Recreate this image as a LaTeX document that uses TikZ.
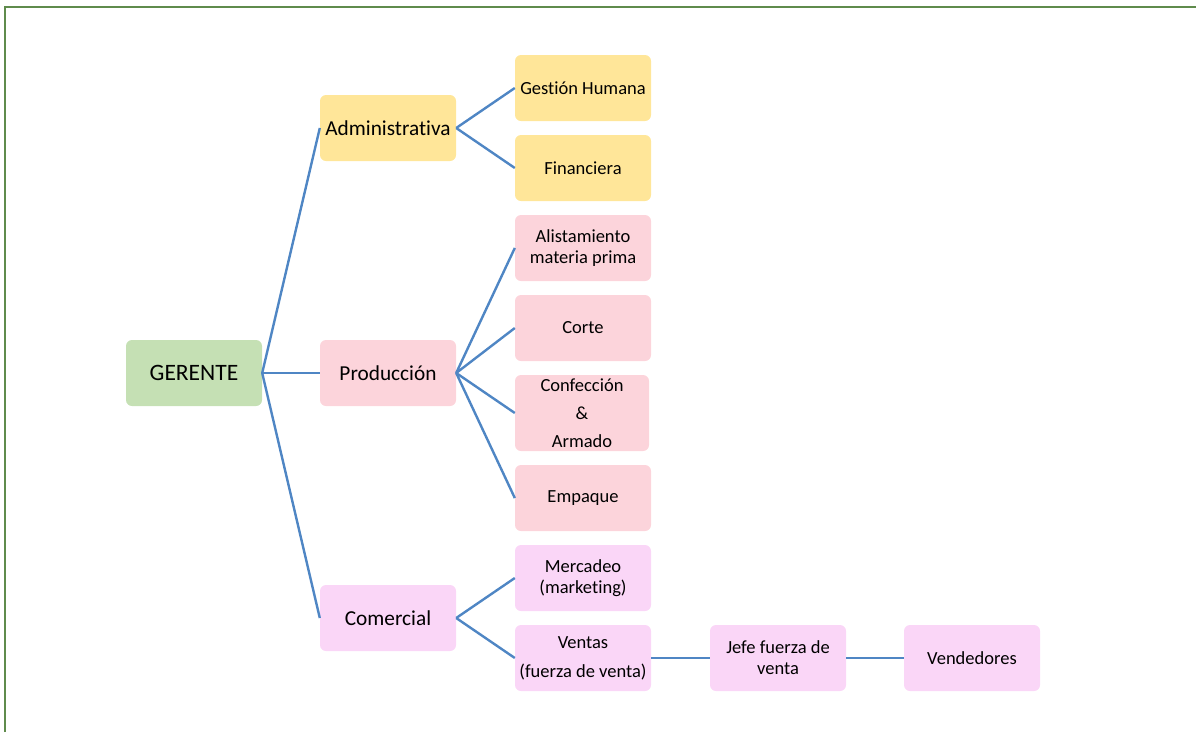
\documentclass[tikz,border=0pt]{standalone}
\usepackage{fontspec}
\setmainfont{Carlito}[Ligatures={NoCommon}]
\definecolor{cgreen}{HTML}{C5E0B4}
\definecolor{cyellow}{HTML}{FFE699}
\definecolor{cpink}{HTML}{FCD4DB}
\definecolor{cmag}{HTML}{FAD6F7}
\definecolor{cline}{HTML}{4F86C4}
\definecolor{cframe}{HTML}{5F8B4C}
\tikzset{
  box/.style={rounded corners=6pt, minimum width=136pt, minimum height=66pt, inner sep=0pt, align=center, text=black},
  mainbox/.style={box, font=\fontsize{21.3}{26}\selectfont},
  childbox/.style={box, font=\fontsize{18.5}{21}\selectfont},
  conn/.style={draw=cline, line width=2.4pt},
}
\begin{document}
\begin{tikzpicture}[x=1pt,y=-1pt]
\useasboundingbox (0,0) rectangle (1196,732);
\draw[cframe, line width=1.5pt] (5,732) -- (5,7) -- (1196,7);

\node[mainbox, fill=cgreen, font=\fontsize{23.5}{26}\selectfont] (G) at (194,373) {GERENTE};
\node[mainbox, fill=cyellow] (A) at (388,128) {Administrativa};
\node[mainbox, fill=cpink] (P) at (388,373) {Producción};
\node[mainbox, fill=cmag] (C) at (388,618) {Comercial};

\node[childbox, fill=cyellow] (gh) at (583,88) {Gestión Humana};
\node[childbox, fill=cyellow] (fi) at (583,168) {Financiera};
\node[childbox, fill=cpink] (al) at (583,248) {Alistamiento\\materia prima};
\node[childbox, fill=cpink] (co) at (583,328) {Corte};
\node[childbox, fill=cpink, minimum width=134pt, minimum height=76pt] (cf) at (582,413) {Confección\\[7pt]\&\\[7pt]Armado};
\node[childbox, fill=cpink] (em) at (583,498) {Empaque};
\node[childbox, fill=cmag] (me) at (583,578) {Mercadeo\\(marketing)};
\node[childbox, fill=cmag] (ve) at (583,658) {Ventas\\[8pt](fuerza de venta)};
\node[childbox, fill=cmag] (je) at (778,658) {Jefe fuerza de\\venta};
\node[childbox, fill=cmag] (vd) at (972,658) {Vendedores};

\draw[conn] (G.east) -- (A.west);
\draw[conn] (G.east) -- (P.west);
\draw[conn] (G.east) -- (C.west);
\draw[conn] (A.east) -- (gh.west);
\draw[conn] (A.east) -- (fi.west);
\draw[conn] (P.east) -- (al.west);
\draw[conn] (P.east) -- (co.west);
\draw[conn] (P.east) -- (cf.west);
\draw[conn] (P.east) -- (em.west);
\draw[conn] (C.east) -- (me.west);
\draw[conn] (C.east) -- (ve.west);
\draw[conn] (ve.east) -- (je.west);
\draw[conn] (je.east) -- (vd.west);
\end{tikzpicture}
\end{document}
